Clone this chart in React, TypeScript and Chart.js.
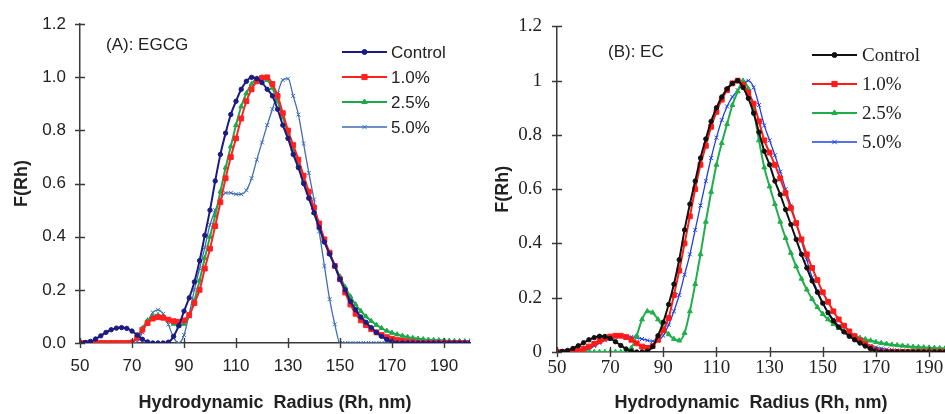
import React, { useEffect, useRef } from 'react';
import { Chart, registerables } from 'chart.js';
import { drawPoint } from 'chart.js/helpers';

Chart.register(...registerables);

// ---------- data ----------
const RADII = [
  50, 52, 54, 56, 58, 60, 62, 64, 66, 68, 70, 72, 74, 76, 78, 80, 82, 84, 86, 88,
  90, 92, 94, 96, 98, 100, 102, 104, 106, 108, 110, 112, 114, 116, 118, 120, 122, 124, 126, 128,
  130, 132, 134, 136, 138, 140, 142, 144, 146, 148, 150, 152, 154, 156, 158, 160, 162, 164, 166, 168,
  170, 172, 174, 176, 178, 180, 182, 184, 186, 188, 190, 192, 194, 196, 198, 200,
];

const X_TICKS = [50, 70, 90, 110, 130, 150, 170, 190];
const Y_TICKS = [0, 0.2, 0.4, 0.6, 0.8, 1.0, 1.2];
const Y_LABELS_A = ['0.0', '0.2', '0.4', '0.6', '0.8', '1.0', '1.2'];
const Y_LABELS_B = ['0', '0.2', '0.4', '0.6', '0.8', '1', '1.2'];
const SERIES_NAMES = ['Control', '1.0%', '2.5%', '5.0%'];
const X_TITLE = 'Hydrodynamic  Radius (Rh, nm)';
const Y_TITLE = 'F(Rh)';
const LABEL_A = '(A): EGCG';
const LABEL_B = '(B): EC';

// Panel A (EGCG)
const A_CONTROL = [
  0, 0.002, 0.006, 0.015, 0.027, 0.04, 0.05, 0.056, 0.058, 0.055, 0.045, 0.03, 0.014, 0.004, 0, 0, 0, 0.003, 0.025, 0.065,
  0.12, 0.17, 0.23, 0.31, 0.405, 0.50, 0.61, 0.71, 0.79, 0.86, 0.91, 0.955, 0.985, 1.0, 0.995, 0.98, 0.955, 0.93, 0.88, 0.82,
  0.77, 0.71, 0.66, 0.60, 0.545, 0.49, 0.435, 0.38, 0.335, 0.29, 0.24, 0.20, 0.157, 0.125, 0.098, 0.078, 0.058, 0.04, 0.025, 0.013,
  0.005, 0, 0, 0, 0, 0, 0, 0, 0, 0, 0, 0, 0, 0, 0, 0,
];
const A_1_0 = [
  0, 0, 0, 0, 0, 0, 0, 0, 0, 0, 0.002, 0.02, 0.05, 0.075, 0.092, 0.097, 0.095, 0.088, 0.082, 0.08,
  0.085, 0.105, 0.15, 0.20, 0.28, 0.355, 0.44, 0.53, 0.62, 0.70, 0.77, 0.845, 0.91, 0.955, 0.985, 0.998, 1.0, 0.975, 0.93, 0.865,
  0.80, 0.745, 0.69, 0.63, 0.57, 0.51, 0.45, 0.39, 0.34, 0.29, 0.24, 0.19, 0.145, 0.11, 0.085, 0.067, 0.052, 0.04, 0.03, 0.022,
  0.016, 0.011, 0.008, 0.005, 0.003, 0.001, 0, 0, 0, 0, 0, 0, 0, 0, 0, 0,
];
const A_2_5 = [
  0, 0, 0, 0, 0, 0, 0, 0, 0, 0, 0.002, 0.025, 0.055, 0.085, 0.10, 0.105, 0.098, 0.085, 0.072, 0.065,
  0.072, 0.10, 0.16, 0.235, 0.32, 0.40, 0.48, 0.57, 0.66, 0.74, 0.82, 0.89, 0.94, 0.975, 0.995, 1.0, 0.99, 0.96, 0.91, 0.85,
  0.79, 0.73, 0.67, 0.61, 0.55, 0.49, 0.435, 0.385, 0.335, 0.29, 0.25, 0.21, 0.175, 0.145, 0.12, 0.10, 0.083, 0.068, 0.056, 0.046,
  0.038, 0.032, 0.027, 0.022, 0.019, 0.016, 0.014, 0.012, 0.011, 0.01, 0.009, 0.008, 0.007, 0.007, 0.006, 0.006,
];
const A_5_0 = [
  0, 0, 0, 0, 0, 0, 0, 0, 0, 0, 0, 0.005, 0.04, 0.08, 0.115, 0.125, 0.11, 0.07, 0.02, 0,
  0.03, 0.11, 0.20, 0.28, 0.36, 0.445, 0.50, 0.54, 0.565, 0.565, 0.56, 0.56, 0.575, 0.62, 0.69, 0.755, 0.82, 0.88, 0.94, 0.99,
  0.995, 0.93, 0.86, 0.75, 0.64, 0.54, 0.42, 0.29, 0.165, 0.07, 0, 0, 0, 0, 0, 0, 0, 0, 0, 0,
  0, 0, 0, 0, 0, 0, 0, 0, 0, 0, 0, 0, 0, 0, 0, 0,
];

// Panel B (EC)
const B_CONTROL = [
  0, 0.002, 0.006, 0.013, 0.023, 0.034, 0.045, 0.053, 0.058, 0.057, 0.05, 0.038, 0.024, 0.011, 0.003, 0, 0, 0.003, 0.02, 0.06,
  0.11, 0.175, 0.25, 0.34, 0.45, 0.545, 0.63, 0.715, 0.785, 0.85, 0.90, 0.94, 0.97, 0.99, 1.0, 0.975, 0.935, 0.88, 0.81, 0.74,
  0.69, 0.63, 0.58, 0.525, 0.47, 0.415, 0.36, 0.31, 0.262, 0.22, 0.18, 0.145, 0.115, 0.092, 0.074, 0.058, 0.045, 0.033, 0.022, 0.012,
  0.004, 0, 0, 0, 0, 0, 0, 0, 0, 0, 0, 0, 0, 0, 0, 0,
];
const B_1_0 = [
  0, 0, 0, 0.001, 0.005, 0.012, 0.02, 0.03, 0.04, 0.05, 0.057, 0.06, 0.06, 0.055, 0.045, 0.032, 0.02, 0.015, 0.022, 0.045,
  0.08, 0.125, 0.21, 0.30, 0.40, 0.50, 0.60, 0.69, 0.76, 0.83, 0.885, 0.93, 0.965, 0.99, 1.0, 0.985, 0.955, 0.915, 0.85, 0.78,
  0.735, 0.69, 0.64, 0.585, 0.53, 0.475, 0.415, 0.36, 0.31, 0.265, 0.22, 0.185, 0.15, 0.12, 0.097, 0.076, 0.058, 0.043, 0.03, 0.017,
  0.006, 0, 0, 0, 0, 0, 0, 0, 0, 0, 0, 0, 0, 0, 0, 0,
];
const B_2_5 = [
  0, 0, 0, 0, 0, 0, 0, 0, 0, 0, 0, 0, 0, 0.003, 0.015, 0.06, 0.12, 0.15, 0.145, 0.12,
  0.09, 0.065, 0.048, 0.042, 0.07, 0.15, 0.25, 0.36, 0.48, 0.59, 0.69, 0.77, 0.84, 0.91, 0.96, 1.0, 0.97, 0.89, 0.78, 0.68,
  0.61, 0.545, 0.48, 0.42, 0.365, 0.315, 0.27, 0.23, 0.195, 0.165, 0.14, 0.12, 0.103, 0.088, 0.077, 0.068, 0.06, 0.052, 0.047, 0.042,
  0.037, 0.033, 0.03, 0.027, 0.025, 0.023, 0.021, 0.019, 0.018, 0.017, 0.016, 0.015, 0.014, 0.013, 0.012, 0.012,
];
const B_5_0 = [
  0, 0, 0, 0, 0.002, 0.005, 0.012, 0.022, 0.033, 0.043, 0.05, 0.055, 0.057, 0.057, 0.056, 0.053, 0.048, 0.043, 0.04, 0.042,
  0.06, 0.10, 0.15, 0.21, 0.285, 0.36, 0.45, 0.54, 0.63, 0.715, 0.79, 0.855, 0.905, 0.94, 0.965, 0.99, 1.0, 0.975, 0.91, 0.835,
  0.78, 0.725, 0.665, 0.60, 0.54, 0.475, 0.41, 0.34, 0.275, 0.225, 0.18, 0.145, 0.12, 0.095, 0.075, 0.058, 0.047, 0.038, 0.03, 0.023,
  0.017, 0.013, 0.01, 0.008, 0.006, 0.005, 0.004, 0.004, 0.003, 0.003, 0.003, 0.002, 0.002, 0.002, 0.002, 0.002,
];

// ---------- styling ----------
const TEXT = '#222222';
const AXIS = '#3a3a3a';
const SANS = '"Liberation Sans", Arial, sans-serif';
const SERIF = '"Liberation Serif", "Times New Roman", serif';

type SeriesStyle = { color: string; pointStyle: string; radius: number; lineWidth: number };

const STYLES_A: SeriesStyle[] = [
  { color: '#1b1b82', pointStyle: 'circle', radius: 2.2, lineWidth: 2 },
  { color: '#ff2020', pointStyle: 'rect', radius: 3.4, lineWidth: 2 },
  { color: '#1fa84a', pointStyle: 'triangle', radius: 2.8, lineWidth: 2 },
  { color: '#3d6db3', pointStyle: 'crossRot', radius: 2.8, lineWidth: 1.3 },
];
const STYLES_B: SeriesStyle[] = [
  { color: '#111111', pointStyle: 'circle', radius: 2.2, lineWidth: 2 },
  { color: '#ff1a1a', pointStyle: 'rect', radius: 3.4, lineWidth: 2 },
  { color: '#1fae4a', pointStyle: 'triangle', radius: 2.8, lineWidth: 2 },
  { color: '#2040e0', pointStyle: 'crossRot', radius: 2.8, lineWidth: 1.3 },
];

type PanelCfg = {
  left: number;
  width: number;
  padTop: number;
  padRight: number;
  yAxisWidth: number;
  xAxisHeight: number;
  xMax: number;
  yLabels: string[];
  tickFamily: string;
  tickSize: number;
  xTickPad: number;
  yTickPad: number;
  yTitlePad: number;
  legendFamily: string;
  legendSize: number;
  legend: { x1: number; x2: number; tx: number; y0: number; dy: number };
  label: string;
  labelX: number;
  labelY: number;
  series: number[][];
  styles: SeriesStyle[];
};

const PANEL_A: PanelCfg = {
  left: 0,
  width: 475,
  padTop: 20,
  padRight: 5,
  yAxisWidth: 80,
  xAxisHeight: 71,
  xMax: 200,
  yLabels: Y_LABELS_A,
  tickFamily: SANS,
  tickSize: 17,
  xTickPad: 13,
  yTickPad: 14,
  yTitlePad: 11,
  legendFamily: SANS,
  legendSize: 17,
  legend: { x1: 342, x2: 387, tx: 391, y0: 52, dy: 25 },
  label: LABEL_A,
  labelX: 106,
  labelY: 45,
  series: [A_CONTROL, A_1_0, A_2_5, A_5_0],
  styles: STYLES_A,
};

const PANEL_B: PanelCfg = {
  left: 470,
  width: 480,
  padTop: 22,
  padRight: 4,
  yAxisWidth: 87,
  xAxisHeight: 62,
  xMax: 196,
  yLabels: Y_LABELS_B,
  tickFamily: SERIF,
  tickSize: 19,
  xTickPad: 5,
  yTickPad: 15,
  yTitlePad: 22,
  legendFamily: SERIF,
  legendSize: 19,
  legend: { x1: 342, x2: 387, tx: 392, y0: 55, dy: 29 },
  label: LABEL_B,
  labelX: 138,
  labelY: 52,
  series: [B_CONTROL, B_1_0, B_2_5, B_5_0],
  styles: STYLES_B,
};

function overlayPlugin(cfg: PanelCfg) {
  return {
    id: 'overlay',
    afterDraw(chart: any) {
      const { ctx, chartArea } = chart;
      const xs = chart.scales.x;
      const ys = chart.scales.y;
      ctx.save();
      // crossing tick marks
      ctx.strokeStyle = AXIS;
      ctx.lineWidth = 1.4;
      ctx.beginPath();
      X_TICKS.forEach((v) => {
        const px = Math.round(xs.getPixelForValue(v)) + 0.5;
        ctx.moveTo(px, chartArea.bottom - 5);
        ctx.lineTo(px, chartArea.bottom + 5);
      });
      Y_TICKS.forEach((v) => {
        const py = Math.round(ys.getPixelForValue(v)) + 0.5;
        ctx.moveTo(chartArea.left - 5, py);
        ctx.lineTo(chartArea.left + 5, py);
      });
      ctx.stroke();

      // panel label
      ctx.fillStyle = TEXT;
      ctx.font = `17px ${SANS}`;
      ctx.textAlign = 'left';
      ctx.textBaseline = 'middle';
      ctx.fillText(cfg.label, cfg.labelX, cfg.labelY);

      // legend
      const L = cfg.legend;
      chart.data.datasets.forEach((ds: any, i: number) => {
        const y = L.y0 + i * L.dy;
        const st = cfg.styles[i];
        ctx.strokeStyle = st.color;
        ctx.fillStyle = st.color;
        ctx.lineWidth = st.lineWidth;
        ctx.beginPath();
        ctx.moveTo(L.x1, y);
        ctx.lineTo(L.x2, y);
        ctx.stroke();
        ctx.lineWidth = 1;
        drawPoint(ctx, { pointStyle: st.pointStyle, radius: st.radius + 0.3, rotation: 0, borderWidth: 1 } as any, (L.x1 + L.x2) / 2, y);
        ctx.fillStyle = TEXT;
        ctx.font = `${cfg.legendSize}px ${cfg.legendFamily}`;
        ctx.textAlign = 'left';
        ctx.textBaseline = 'middle';
        ctx.fillText(ds.label, L.tx, y + 1);
      });
      ctx.restore();
    },
  };
}

function Panel({ cfg }: { cfg: PanelCfg }) {
  const ref = useRef<HTMLCanvasElement | null>(null);
  useEffect(() => {
    if (!ref.current) return;
    const datasets = cfg.series.map((vals, i) => {
      const st = cfg.styles[i];
      return {
        label: SERIES_NAMES[i],
        data: RADII.map((x, j) => ({ x, y: vals[j] })),
        borderColor: st.color,
        backgroundColor: st.color,
        borderWidth: st.lineWidth,
        pointStyle: st.pointStyle,
        pointRadius: st.radius,
        pointBorderWidth: 1,
        pointBorderColor: st.color,
        pointBackgroundColor: st.color,
        cubicInterpolationMode: 'monotone' as const,
        fill: false,
      };
    });
    const chart = new Chart(ref.current, {
      type: 'line',
      data: { datasets },
      options: {
        responsive: false,
        animation: false,
        layout: { padding: { left: 0, top: cfg.padTop, right: cfg.padRight, bottom: 0 } },
        plugins: { legend: { display: false }, tooltip: { enabled: false } },
        scales: {
          x: {
            type: 'linear',
            min: 50,
            max: cfg.xMax,
            grid: { display: false, drawTicks: false },
            border: { display: true, color: AXIS, width: 1.5 },
            afterBuildTicks: (s: any) => {
              s.ticks = X_TICKS.map((v) => ({ value: v }));
            },
            afterFit: (s: any) => {
              s.height = cfg.xAxisHeight;
            },
            ticks: {
              padding: cfg.xTickPad,
              color: TEXT,
              maxRotation: 0,
              autoSkip: false,
              font: { family: cfg.tickFamily, size: cfg.tickSize },
              callback: (v: any) => String(v),
            },
            title: {
              display: true,
              text: X_TITLE,
              color: TEXT,
              font: { family: SANS, size: 18, weight: 'bold' },
              padding: { top: 0, bottom: 0 },
            },
          },
          y: {
            type: 'linear',
            min: 0,
            max: 1.2,
            grid: { display: false, drawTicks: false },
            border: { display: true, color: AXIS, width: 1.5 },
            afterBuildTicks: (s: any) => {
              s.ticks = Y_TICKS.map((v) => ({ value: v }));
            },
            afterFit: (s: any) => {
              s.width = cfg.yAxisWidth;
            },
            ticks: {
              padding: cfg.yTickPad,
              color: TEXT,
              autoSkip: false,
              font: { family: cfg.tickFamily, size: cfg.tickSize },
              callback: (_v: any, idx: number) => cfg.yLabels[idx],
            },
            title: {
              display: true,
              text: Y_TITLE,
              color: TEXT,
              font: { family: SANS, size: 18, weight: 'bold' },
              padding: { top: cfg.yTitlePad, bottom: 0 },
            },
          },
        },
      } as any,
      plugins: [overlayPlugin(cfg)],
    });
    return () => chart.destroy();
  }, [cfg]);
  return (
    <canvas
      ref={ref}
      width={cfg.width}
      height={414}
      style={{ position: 'absolute', left: cfg.left, top: 0, width: cfg.width, height: 414 }}
    />
  );
}

export default function App() {
  return (
    <div
      style={{
        position: 'absolute',
        left: 0,
        top: 0,
        width: 945,
        height: 414,
        overflow: 'hidden',
        background: '#ffffff',
      }}
    >
      <Panel cfg={PANEL_A} />
      <Panel cfg={PANEL_B} />
    </div>
  );
}
